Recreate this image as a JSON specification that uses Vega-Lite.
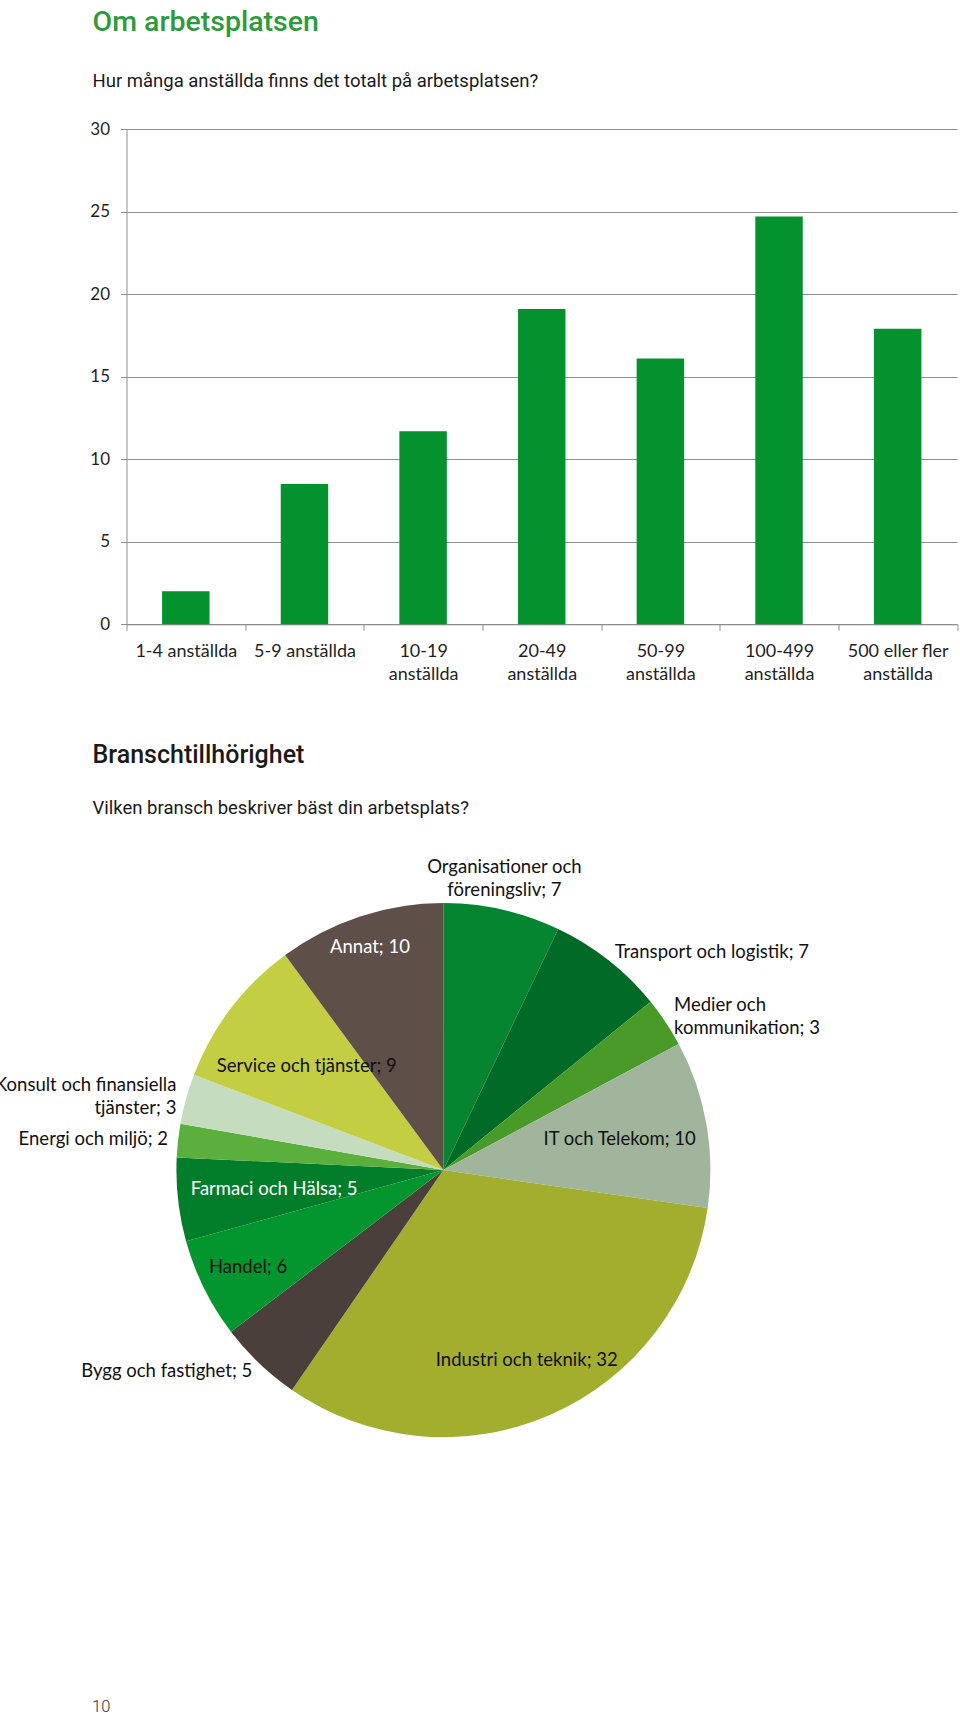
{
  "$schema": "https://vega.github.io/schema/vega-lite/v6.json",
  "autosize": {"type": "none"},
  "padding": {"left": 126.5, "top": 129, "right": 833.5, "bottom": 1586},
  "background": "#ffffff",
  "bounds": "flush",
  "spacing": 278.1,
  "title": {"text": "10", "orient": "bottom", "anchor": "start", "frame": "group", "dx": -34.5, "offset": 262, "font": "Roboto", "fontSize": 16.5, "fontWeight": 300, "color": "#333333"},
  "config": {
    "view": {"stroke": null},
    "font": "Lato"
  },
  "vconcat": [
    {
      "width": 830.5,
      "height": 495.3,
      "title": {
        "text": "Om arbetsplatsen",
        "subtitle": "Hur många anställda finns det totalt på arbetsplatsen?",
        "anchor": "start", "frame": "group", "dx": -34,
        "font": "Roboto", "fontSize": 28.5, "fontWeight": 500, "color": "#2c9b3c",
        "subtitleFont": "Roboto", "subtitleFontSize": 18.5, "subtitleFontWeight": 400, "subtitleColor": "#1a1a1a", "subtitlePadding": 35,
        "offset": 30
      },
      "data": {"values": [
        {"storlek": "1-4 anställda", "andel": 2.0},
        {"storlek": "5-9 anställda", "andel": 8.5},
        {"storlek": "10-19 anställda", "andel": 11.7},
        {"storlek": "20-49 anställda", "andel": 19.1},
        {"storlek": "50-99 anställda", "andel": 16.1},
        {"storlek": "100-499 anställda", "andel": 24.7},
        {"storlek": "500 eller fler anställda", "andel": 17.9}
      ]},
      "mark": {"type": "bar", "width": {"band": 0.4}, "color": "#03922E"},
      "encoding": {
        "x": {
          "field": "storlek", "type": "nominal", "sort": null,
          "scale": {"paddingInner": 0, "paddingOuter": 0},
          "axis": {
            "title": null, "labelAngle": 0, "tickBand": "extent",
            "domainColor": "#8e8e8e", "tickColor": "#8e8e8e", "tickSize": 6,
            "labelFont": "Lato", "labelFontSize": 18, "labelColor": "#1f1f1f",
            "labelPadding": 12, "labelLineHeight": 23, "labelBaseline": "top",
            "labelExpr": "length(datum.label) > 14 ? [slice(datum.label, 0, lastindexof(datum.label, ' ')), 'anställda'] : datum.label"
          }
        },
        "y": {
          "field": "andel", "type": "quantitative",
          "scale": {"domain": [0, 30], "nice": false},
          "axis": {
            "title": null, "values": [0, 5, 10, 15, 20, 25, 30], "grid": true,
            "gridColor": "#8e8e8e", "domainColor": "#8e8e8e", "tickColor": "#8e8e8e", "tickSize": 6,
            "labelFont": "Lato", "labelFontSize": 17, "labelColor": "#1f1f1f", "labelPadding": 11
          }
        }
      }
    },
    {
      "width": 633.8,
      "height": 534,
      "title": {
        "text": "Branschtillhörighet",
        "subtitle": "Vilken bransch beskriver bäst din arbetsplats?",
        "anchor": "start", "frame": "group", "dx": -34,
        "font": "Roboto", "fontSize": 25, "fontWeight": 500, "color": "#1a1a1a",
        "subtitleFont": "Roboto", "subtitleFontSize": 18.5, "subtitleFontWeight": 400, "subtitleColor": "#1a1a1a", "subtitlePadding": 31.5,
        "offset": 40
      },
      "data": {"values": [
        {"bransch": "Organisationer och föreningsliv", "antal": 7},
        {"bransch": "Transport och logistik", "antal": 7},
        {"bransch": "Medier och kommunikation", "antal": 3},
        {"bransch": "IT och Telekom", "antal": 10},
        {"bransch": "Industri och teknik", "antal": 32},
        {"bransch": "Bygg och fastighet", "antal": 5},
        {"bransch": "Handel", "antal": 6},
        {"bransch": "Farmaci och Hälsa", "antal": 5},
        {"bransch": "Energi och miljö", "antal": 2},
        {"bransch": "Konsult och finansiella tjänster", "antal": 3},
        {"bransch": "Service och tjänster", "antal": 9},
        {"bransch": "Annat", "antal": 10}
      ]},
      "transform": [
        {"window": [{"op": "row_number", "as": "nr"}]},
        {"joinaggregate": [{"op": "sum", "field": "antal", "as": "total"}]},
        {"calculate": "length(datum.bransch) >= 24 ? slice(datum.bransch, 0, lastindexof(datum.bransch, ' ')) + '\\n' + slice(datum.bransch, lastindexof(datum.bransch, ' ') + 1) + '; ' + datum.antal : datum.bransch + '; ' + datum.antal", "as": "etikett"}
      ],
      "layer": [
        {
          "mark": {"type": "arc", "radius": 267},
          "encoding": {
            "theta": {"field": "antal", "type": "quantitative", "stack": true},
            "order": {"field": "nr", "type": "quantitative"},
            "color": {
              "field": "bransch", "type": "nominal", "sort": null, "legend": null,
              "scale": {"range": ["#05852F", "#006B27", "#4A9A2A", "#A0B59C", "#A3AE2E", "#4B3F3B", "#04962E", "#027E2A", "#5AAF3D", "#C5DCBF", "#C3CE42", "#5E4F49"]}
            }
          }
        },
        {
          "mark": {
            "type": "text", "align": "center", "baseline": "middle", "font": "Lato", "fontSize": 18.5, "lineBreak": "\n", "lineHeight": 23,
            "radius": {"expr": "258 - abs(sin(PI * (datum.antal_start + datum.antal_end) / datum.total)) * length(datum.etikett) * 4.35 - abs(cos(PI * (datum.antal_start + datum.antal_end) / datum.total)) * 11"}
          },
          "encoding": {
            "theta": {"field": "antal", "type": "quantitative", "stack": true},
            "order": {"field": "nr", "type": "quantitative"},
            "text": {"condition": {"test": "indexof(['Organisationer och föreningsliv','Transport och logistik','Medier och kommunikation','Bygg och fastighet','Energi och miljö','Konsult och finansiella tjänster'], datum.bransch) < 0", "field": "etikett"}, "value": ""},
            "color": {"condition": {"test": "datum.bransch == 'Annat' || datum.bransch == 'Farmaci och Hälsa'", "value": "#ffffff"}, "value": "#111111"}
          }
        },
        {
          "mark": {"type": "text", "radius": 277, "align": "left", "baseline": "middle", "font": "Lato", "fontSize": 18.5, "lineBreak": "\n", "lineHeight": 23, "color": "#111111", "dy": {"expr": "indexof(datum.etikett, '\\n') >= 0 ? -11.5 : 0"}},
          "encoding": {
            "theta": {"field": "antal", "type": "quantitative", "stack": true},
            "order": {"field": "nr", "type": "quantitative"},
            "text": {"condition": {"test": "indexof(['Transport och logistik','Medier och kommunikation'], datum.bransch) >= 0", "field": "etikett"}, "value": ""}
          }
        },
        {
          "mark": {"type": "text", "radius": 277, "align": "right", "baseline": "middle", "font": "Lato", "fontSize": 18.5, "lineBreak": "\n", "lineHeight": 23, "color": "#111111", "dy": {"expr": "indexof(datum.etikett, '\\n') >= 0 ? -11.5 : 0"}},
          "encoding": {
            "theta": {"field": "antal", "type": "quantitative", "stack": true},
            "order": {"field": "nr", "type": "quantitative"},
            "text": {"condition": {"test": "indexof(['Bygg och fastighet','Energi och miljö','Konsult och finansiella tjänster'], datum.bransch) >= 0", "field": "etikett"}, "value": ""}
          }
        },
        {
          "mark": {"type": "text", "radius": 277, "align": "center", "baseline": "bottom", "font": "Lato", "fontSize": 18.5, "lineBreak": "\n", "lineHeight": 23, "color": "#111111", "dy": {"expr": "indexof(datum.etikett, '\\n') >= 0 ? -23 : 0"}},
          "encoding": {
            "theta": {"field": "antal", "type": "quantitative", "stack": true},
            "order": {"field": "nr", "type": "quantitative"},
            "text": {"condition": {"test": "datum.bransch == 'Organisationer och föreningsliv'", "field": "etikett"}, "value": ""}
          }
        }
      ]
    }
  ]
}
